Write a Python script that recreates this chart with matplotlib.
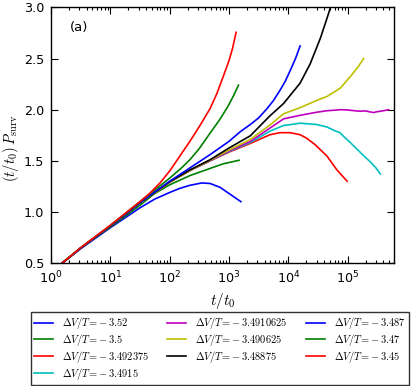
import matplotlib
matplotlib.use("Agg")
import matplotlib.pyplot as plt
from matplotlib.font_manager import FontProperties
from matplotlib.ticker import MultipleLocator, FormatStrFormatter, LogLocator

labels = [r"$\Delta V/T\!=\!-3.52$", r"$\Delta V/T\!=\!-3.5$", r"$\Delta V/T\!=\!-3.492375$",
          r"$\Delta V/T\!=\!-3.4915$", r"$\Delta V/T\!=\!-3.4910625$", r"$\Delta V/T\!=\!-3.490625$",
          r"$\Delta V/T\!=\!-3.48875$", r"$\Delta V/T\!=\!-3.487$", r"$\Delta V/T\!=\!-3.47$",
          r"$\Delta V/T\!=\!-3.45$"]
colors = ["#0000ff", "#008000", "#ff0000", "#00bfbf", "#bf00bf", "#bfbf00", "#000000",
          "#0000ff", "#008000", "#ff0000"]

t1 = [1.55, 3.16, 10, 31.6, 56, 100, 148, 219, 347, 479, 708, 1000, 1260, 1585]
y1 = [0.50, 0.64, 0.845, 1.04, 1.125, 1.19, 1.23, 1.26, 1.283, 1.278, 1.24, 1.18, 1.14, 1.10]

t2 = [1.55, 3.16, 10, 31.6, 56, 100, 219, 479, 794, 1480]
y2 = [0.50, 0.645, 0.85, 1.065, 1.18, 1.265, 1.355, 1.425, 1.47, 1.505]

t3 = [1.55, 3.16, 10, 31.6, 100, 219, 479, 1000, 2290, 4900, 7240, 10700, 15800, 20400, 28000,
      45000, 66000, 98000]
y3 = [0.50, 0.645, 0.86, 1.09, 1.29, 1.405, 1.50, 1.585, 1.67, 1.755, 1.775, 1.775, 1.755, 1.72, 1.66,
      1.545, 1.41, 1.30]

t4 = [1.55, 3.16, 10, 31.6, 100, 219, 479, 1000, 2290, 4900, 8300, 15800, 30000, 45000, 60000, 74000,
      85000, 110000, 140000, 186000, 240000, 300000, 355000]
y4 = [0.50, 0.645, 0.86, 1.09, 1.29, 1.405, 1.50, 1.59, 1.68, 1.79, 1.845, 1.868, 1.855, 1.83, 1.795, 1.775,
      1.74, 1.68, 1.62, 1.55, 1.49, 1.43, 1.37]

t5 = [1.55, 3.16, 10, 31.6, 100, 219, 479, 1000, 2290, 4900, 8300, 15800, 30000, 45000, 60000, 76000,
      100000, 130000, 162000, 200000, 240000, 275000, 310000, 360000, 420000, 490000]
y5 = [0.50, 0.645, 0.86, 1.09, 1.29, 1.405, 1.50, 1.595, 1.69, 1.82, 1.91, 1.945, 1.975, 1.99, 1.995, 2.0,
      1.997, 1.99, 1.985, 1.988, 1.978, 1.972, 1.98, 1.985, 1.992, 2.0]

t6 = [1.55, 3.16, 10, 31.6, 100, 219, 479, 1000, 2290, 4900, 8300, 15800, 30000, 45000, 75000, 117000,
      150000, 186000]
y6 = [0.50, 0.645, 0.86, 1.09, 1.29, 1.405, 1.505, 1.605, 1.71, 1.85, 1.96, 2.02, 2.09, 2.13, 2.21, 2.34,
      2.42, 2.50]

t7 = [1.55, 3.16, 10, 31.6, 100, 219, 479, 1000, 2290, 4900, 8300, 15800, 23400, 34700, 44000, 51300, 56000]
y7 = [0.50, 0.645, 0.86, 1.09, 1.295, 1.41, 1.51, 1.625, 1.745, 1.94, 2.06, 2.26, 2.45, 2.70, 2.88, 3.0, 3.08]

t8 = [1.55, 3.16, 10, 31.6, 100, 219, 479, 1000, 1550, 2290, 3160, 4370, 5620, 7240, 8910, 10700,
      13200, 15800]
y8 = [0.50, 0.645, 0.86, 1.09, 1.30, 1.43, 1.56, 1.69, 1.785, 1.855, 1.92, 2.01, 2.09, 2.19, 2.28, 2.38,
      2.50, 2.624]

t9 = [1.55, 3.16, 10, 31.6, 100, 158, 219, 316, 479, 692, 955, 1200, 1445]
y9 = [0.50, 0.65, 0.865, 1.10, 1.33, 1.43, 1.51, 1.62, 1.77, 1.90, 2.03, 2.14, 2.24]

t10 = [1.55, 3.16, 10, 31.6, 46.8, 69.2, 100, 148, 219, 324, 479, 617, 794, 1000, 1148, 1318]
y10 = [0.50, 0.65, 0.87, 1.10, 1.185, 1.285, 1.40, 1.545, 1.69, 1.845, 2.01, 2.15, 2.32, 2.48, 2.60, 2.757]

series_t = [t1, t2, t3, t4, t5, t6, t7, t8, t9, t10]
series_y = [y1, y2, y3, y4, y5, y6, y7, y8, y9, y10]

plt.rcParams["font.family"] = ["DejaVu Sans"]
plt.rcParams["mathtext.fontset"] = "dejavusans"

fig = plt.figure(figsize=(4.15, 3.86), dpi=100)
ax = fig.add_axes([0.1229, 0.3187, 0.949 - 0.1229, 0.9806 - 0.3187])

lines = []
for t, y, c, lab in zip(series_t, series_y, colors, labels):
    ln, = ax.plot(t, y, color=c, lw=1.2, label=lab)
    lines.append(ln)

ax.set_xscale("log")
ax.set_xlim(1, 6e5)
ax.set_ylim(0.5, 3.0)
ax.yaxis.set_major_locator(MultipleLocator(0.5))
ax.yaxis.set_major_formatter(FormatStrFormatter("%.1f"))
ax.xaxis.set_major_locator(LogLocator(base=10, numticks=10))
ax.xaxis.set_minor_locator(LogLocator(base=10, subs=range(2, 10), numticks=20))
ax.tick_params(which="both", direction="in", top=True, right=True, labelsize=9.2, width=0.8)
ax.tick_params(which="major", length=5, pad=5)
ax.tick_params(which="minor", length=2.5)
for s in ax.spines.values():
    s.set_linewidth(1.0)

ax.set_xlabel(r"$t/t_0$", fontsize=11, math_fontfamily="cm", labelpad=3)
ax.set_ylabel(r"$(t/t_0)\,P_{\rm surv}$", fontsize=10.5, math_fontfamily="cm")
ax.yaxis.set_label_coords(-0.088, 0.45)
ax.text(0.055, 0.92, "(a)", transform=ax.transAxes, fontsize=9.5, va="center", ha="left")

leg = fig.legend(handles=lines, loc="upper left", bbox_to_anchor=(0.0747, 0.0026, 0.911, 0.189),
                 mode="expand", ncol=3, borderaxespad=0, fancybox=False,
                 prop=FontProperties(size=7.5, math_fontfamily="cm"),
                 handlelength=1.8, handletextpad=0.9, labelspacing=0.08, borderpad=0.3,
                 columnspacing=1.0)
leg.get_frame().set_edgecolor("black")
leg.get_frame().set_linewidth(1.0)

fig.savefig("out.png", dpi=100)
